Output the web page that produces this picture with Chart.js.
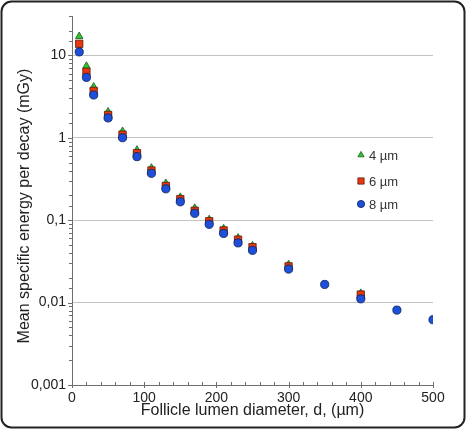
<!DOCTYPE html>
<html>
<head>
<meta charset="utf-8">
<script src="https://cdn.jsdelivr.net/npm/chart.js@4.4.1/dist/chart.umd.min.js"></script>
<style>
  body { margin: 0; background: #fff; }
  #wrap { width: 469px; height: 430px; }
</style>
</head>
<body>
<div id="wrap"><canvas id="c" width="469" height="430"></canvas></div>
<script>
// follicle lumen diameter (um)
const diameters = [10, 20, 30, 50, 70, 90, 110, 130, 150, 170, 190, 210, 230, 250, 300, 350, 400, 450, 500];
// mean specific energy per decay (mGy), one list per cell size
const energy4um = [17.0, 7.4, 4.15, 2.07, 1.2, 0.71, 0.43, 0.28, 0.19, 0.14, 0.102, 0.079, 0.061, 0.049, 0.029, null, 0.013, null, null];
const energy6um = [13.8, 6.3, 3.7, 1.89, 1.09, 0.65, 0.40, 0.26, 0.18, 0.13, 0.097, 0.075, 0.058, 0.047, 0.0275, null, 0.0125, null, null];
const energy8um = [11.0, 5.4, 3.3, 1.74, 1.0, 0.59, 0.37, 0.24, 0.167, 0.121, 0.089, 0.069, 0.053, 0.043, 0.0255, 0.0166, 0.0111, 0.0081, 0.0062];
const seriesLabels = ["4 µm", "6 µm", "8 µm"];
const yMajor = [0.001, 0.01, 0.1, 1, 10];
const yTickLabels = ["0,001", "0,01", "0,1", "1", "10"];
const xMajor = [0, 100, 200, 300, 400, 500];
const yTitle = "Mean specific energy per decay (mGy)";

const FONT = "'Liberation Sans', Arial, sans-serif";
const AXIS = "#6e6e6e";

function pts(arr) {
  return diameters.map((d, i) => ({ x: d, y: arr[i] })).filter(p => p.y !== null);
}
function isMajorY(v) {
  return yMajor.some(m => Math.abs(m - v) / m < 1e-6);
}

const styles = [
  { style: "triangle", fill: "#2fc42f", border: "#1c5a1c", radius: 4.3, legendR: 3.6 },
  { style: "rect", fill: "#e8380f", border: "#5a1a0a", radius: 5.2, legendR: 4.4 },
  { style: "circle", fill: "#1d4fd8", border: "#0c1f55", radius: 4.1, legendR: 3.6 }
];

// frame, custom ticks, y title and legend
const decor = {
  id: "decor",
  beforeDraw(chart) {
    const ctx = chart.ctx;
    ctx.save();
    ctx.fillStyle = "#fff";
    ctx.fillRect(0, 0, chart.width, chart.height);
    ctx.restore();
  },
  afterDraw(chart) {
    const ctx = chart.ctx;
    const xs = chart.scales.x, ys = chart.scales.y;
    const area = chart.chartArea;
    ctx.save();
    ctx.strokeStyle = AXIS;
    ctx.lineWidth = 1;
    // y ticks
    ys.ticks.forEach(t => {
      const py = Math.round(ys.getPixelForValue(t.value)) + 0.5;
      const len = isMajorY(t.value) ? 4 : 3;
      ctx.beginPath();
      ctx.moveTo(area.left - len, py);
      ctx.lineTo(area.left, py);
      ctx.stroke();
    });
    // x ticks
    xs.ticks.forEach(t => {
      const px = Math.round(xs.getPixelForValue(t.value)) + 0.5;
      const major = xMajor.includes(t.value);
      ctx.beginPath();
      ctx.moveTo(px, area.bottom - 3);
      ctx.lineTo(px, area.bottom + (major ? 3 : 0));
      ctx.stroke();
    });
    // y title
    ctx.save();
    ctx.translate(25, 206);
    ctx.rotate(-Math.PI / 2);
    ctx.fillStyle = "#222";
    ctx.font = "16px " + FONT;
    ctx.textAlign = "center";
    ctx.textBaseline = "middle";
    ctx.fillText(yTitle, 0, 0);
    ctx.restore();
    // legend
    const lx = 361, ly = [155, 181, 204];
    styles.forEach((s, i) => {
      ctx.fillStyle = s.fill;
      ctx.strokeStyle = s.border;
      ctx.lineWidth = 0.8;
      Chart.helpers.drawPoint(ctx, { pointStyle: s.style, radius: s.legendR, borderWidth: 0.8, rotation: 0 }, lx, ly[i]);
      ctx.fillStyle = "#333";
      ctx.font = "13px " + FONT;
      ctx.textBaseline = "middle";
      ctx.fillText(seriesLabels[i], lx + 8, ly[i] + 1);
    });
    // frame
    ctx.strokeStyle = "#222";
    ctx.lineWidth = 2;
    ctx.beginPath();
    ctx.roundRect(1.5, 1.5, 463, 426, 10);
    ctx.stroke();
    ctx.restore();
  }
};

const datasets = [energy4um, energy6um, energy8um].map((arr, i) => ({
  label: seriesLabels[i],
  data: pts(arr),
  showLine: false,
  pointStyle: styles[i].style,
  pointRadius: styles[i].radius,
  pointHoverRadius: styles[i].radius,
  pointBackgroundColor: styles[i].fill,
  pointBorderColor: styles[i].border,
  pointBorderWidth: 0.8,
  order: 3 - i
}));

new Chart(document.getElementById("c"), {
  type: "scatter",
  data: { datasets },
  options: {
    responsive: false,
    animation: false,
    layout: { padding: { top: 16, right: 36, left: 0, bottom: 0 } },
    plugins: { legend: { display: false }, tooltip: { enabled: false } },
    scales: {
      x: {
        type: "linear",
        min: 0, max: 500,
        afterFit(s) { s.height = 45; },
        border: { display: true, color: AXIS },
        grid: { display: false, drawTicks: false },
        ticks: {
          stepSize: 20, autoSkip: false, maxRotation: 0, padding: 5,
          color: "#222", font: { family: FONT, size: 14 },
          callback: v => xMajor.includes(v) ? String(v) : ""
        },
        title: {
          display: true, text: "Follicle lumen diameter, d, (µm)",
          color: "#222", font: { family: FONT, size: 16 },
          padding: { top: 0, bottom: 10 }
        }
      },
      y: {
        type: "logarithmic",
        min: 0.001, max: 30,
        afterFit(s) { s.width = 72; },
        border: { display: true, color: AXIS },
        grid: {
          drawTicks: false,
          color: c => (c.tick && isMajorY(c.tick.value) && c.tick.value > 0.001) ? "#c4c4c4" : "rgba(0,0,0,0)",
          lineWidth: 1
        },
        ticks: {
          autoSkip: false, padding: 6,
          color: "#222", font: { family: FONT, size: 14 },
          callback: v => {
            const k = yMajor.findIndex(m => Math.abs(m - v) / m < 1e-6);
            return k >= 0 ? yTickLabels[k] : "";
          }
        }
      }
    }
  },
  plugins: [decor]
});
</script>
</body>
</html>
